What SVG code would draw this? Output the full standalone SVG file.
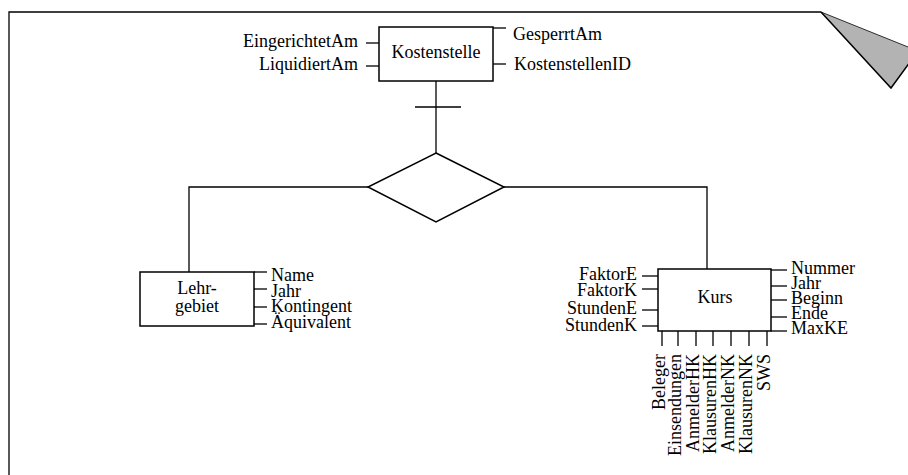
<svg xmlns="http://www.w3.org/2000/svg" width="908" height="475" viewBox="0 0 908 475">
  <style>
    text { font-family: "Liberation Serif", "Times New Roman", serif; font-size: 18px; fill: #000; }
    .box { fill: #fff; stroke: #000; stroke-width: 1.5; }
    .ln { fill: none; stroke: #000; stroke-width: 1.3; }
    .mid { text-anchor: middle; }
    .end { text-anchor: end; }
  </style>

  <!-- page frame with folded corner -->
  <g id="frame">
    <polyline class="ln" points="9,475 9,12 821,12"/>
    <polygon points="821,12 918,51 891,88" fill="#b3b3b3" stroke="none"/>
    <line x1="821" y1="12" x2="918" y2="51" stroke="#000" stroke-width="0.8"/>
    <polyline points="821,12 891,88 918,51" fill="none" stroke="#000" stroke-width="1.5"/>
  </g>

  <!-- relationship connectors -->
  <g id="connectors">
    <line class="ln" x1="436" y1="81" x2="436" y2="153"/>
    <line class="ln" x1="415" y1="107" x2="461" y2="107"/>
    <polyline class="ln" points="368,187 189,187 189,272"/>
    <polyline class="ln" points="504,187 707,187 707,269"/>
  </g>

  <g id="relationship">
    <polygon class="box" points="436,153 504,187 436,222 368,187"/>
  </g>

  <g id="kostenstelle">
    <rect class="box" x="379" y="27" width="114" height="54"/>
    <text class="mid" x="436" y="58">Kostenstelle</text>
    <g class="ln">
      <line x1="366" y1="43" x2="379" y2="43"/>
      <line x1="366" y1="66" x2="379" y2="66"/>
      <line x1="493" y1="28" x2="506" y2="28"/>
      <line x1="493" y1="64" x2="506" y2="64"/>
    </g>
    <text class="end" x="358" y="47">EingerichtetAm</text>
    <text class="end" x="358" y="70">LiquidiertAm</text>
    <text x="513" y="40">GesperrtAm</text>
    <text x="514" y="70">KostenstellenID</text>
  </g>

  <g id="lehrgebiet">
    <rect class="box" x="140" y="272" width="114" height="54"/>
    <text class="mid" x="197" y="294">Lehr-</text>
    <text class="mid" x="197" y="312">gebiet</text>
    <g class="ln">
      <line x1="254" y1="272" x2="267" y2="272"/>
      <line x1="254" y1="289" x2="267" y2="289"/>
      <line x1="254" y1="307" x2="267" y2="307"/>
      <line x1="254" y1="324" x2="267" y2="324"/>
    </g>
    <text x="271" y="281">Name</text>
    <text x="271" y="297">Jahr</text>
    <text x="271" y="312">Kontingent</text>
    <text x="271" y="328">Äquivalent</text>
  </g>

  <g id="kurs">
    <rect class="box" x="658" y="269" width="113" height="62"/>
    <text class="mid" x="715" y="303">Kurs</text>
    <g class="ln">
      <line x1="642" y1="276" x2="658" y2="276"/>
      <line x1="642" y1="289" x2="658" y2="289"/>
      <line x1="642" y1="310" x2="658" y2="310"/>
      <line x1="642" y1="326" x2="658" y2="326"/>
      <line x1="771" y1="270" x2="787" y2="270"/>
      <line x1="771" y1="286" x2="787" y2="286"/>
      <line x1="771" y1="300" x2="787" y2="300"/>
      <line x1="771" y1="317" x2="787" y2="317"/>
      <line x1="771" y1="331" x2="787" y2="331"/>
      <line x1="662" y1="331" x2="662" y2="346"/>
      <line x1="678" y1="331" x2="678" y2="346"/>
      <line x1="696" y1="331" x2="696" y2="346"/>
      <line x1="713" y1="331" x2="713" y2="346"/>
      <line x1="731" y1="331" x2="731" y2="346"/>
      <line x1="749" y1="331" x2="749" y2="346"/>
      <line x1="767" y1="331" x2="767" y2="346"/>
    </g>
    <text class="end" x="637" y="280">FaktorE</text>
    <text class="end" x="637" y="296">FaktorK</text>
    <text class="end" x="637" y="314">StundenE</text>
    <text class="end" x="637" y="331">StundenK</text>
    <text x="791" y="274">Nummer</text>
    <text x="791" y="289">Jahr</text>
    <text x="791" y="304">Beginn</text>
    <text x="791" y="319">Ende</text>
    <text x="791" y="334">MaxKE</text>
    <text class="end" transform="translate(665,354) rotate(-90)">Beleger</text>
    <text class="end" transform="translate(681,354) rotate(-90)">Einsendungen</text>
    <text class="end" transform="translate(699,354) rotate(-90)">AnmelderHK</text>
    <text class="end" transform="translate(716,354) rotate(-90)">KlausurenHK</text>
    <text class="end" transform="translate(734,354) rotate(-90)">AnmelderNK</text>
    <text class="end" transform="translate(752,354) rotate(-90)">KlausurenNK</text>
    <text class="end" transform="translate(770,354) rotate(-90)">SWS</text>
  </g>
</svg>
